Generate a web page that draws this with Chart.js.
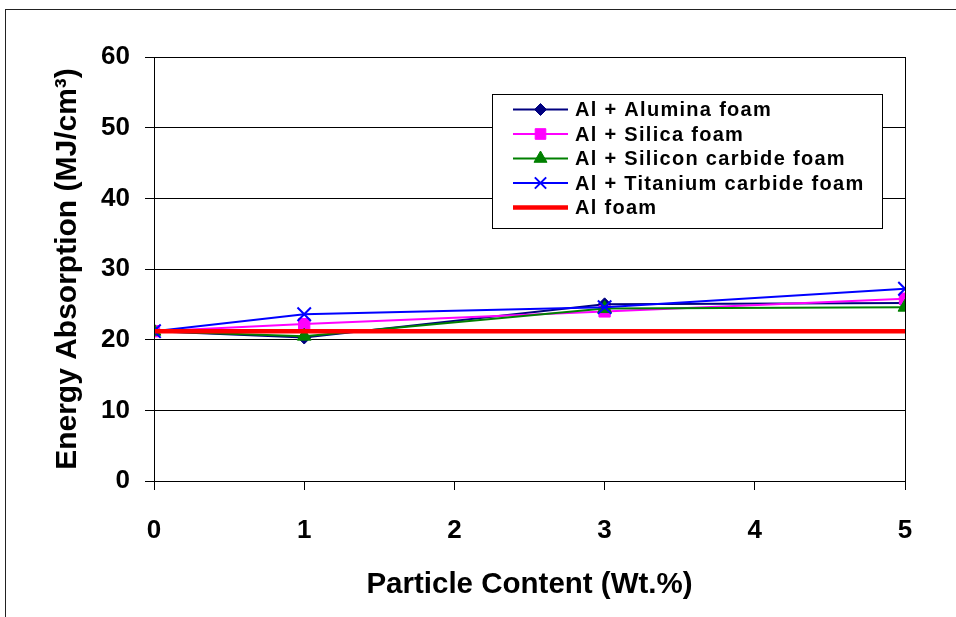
<!DOCTYPE html>
<html>
<head>
<meta charset="utf-8">
<script src="https://cdn.jsdelivr.net/npm/chart.js@4.4.1/dist/chart.umd.min.js"></script>
<style>
  html, body { margin: 0; padding: 0; background: #fff; width: 956px; height: 617px; overflow: hidden; }
  #frame { position: absolute; left: 5px; top: 9px; width: 1000px; height: 700px; border: 1px solid #222; background: #fff; }
  #chart { position: absolute; left: 0; top: 0; }
</style>
</head>
<body>
<div id="frame"></div>
<canvas id="chart" width="956" height="617"></canvas>
<script>
// Particle content (wt.%) at which each foam was tested
const particleContent = [0, 1, 3, 5];

// Energy absorption (MJ/cm3) per foam type
const aluminaFoam = [21.2, 20.3, 25.0, 25.2];
const silicaFoam = [21.2, 22.2, 24.0, 25.8];
const siliconCarbideFoam = [21.2, 20.5, 24.4, 24.6];
const titaniumCarbideFoam = [21.2, 23.6, 24.6, 27.2];
const plainAlFoam = [21.2, 21.2, 21.2, 21.2];

// Axis tick values
const xTicks = [0, 1, 2, 3, 4, 5];
const yTicks = [0, 10, 20, 30, 40, 50, 60];

const FONT = '"Liberation Sans", Arial, Helvetica, sans-serif';
Chart.defaults.font.family = FONT;
Chart.defaults.font.weight = 'bold';
Chart.defaults.color = '#000';

const toPoints = ys => particleContent.map((x, i) => ({ x, y: ys[i] }));

function series(label, ys, color, style, radius, order, extra) {
  return Object.assign({
    label,
    data: toPoints(ys),
    borderColor: color,
    backgroundColor: color,
    borderWidth: 2,
    pointStyle: style,
    pointRadius: radius,
    pointHoverRadius: radius,
    pointBackgroundColor: color,
    pointBorderColor: color,
    pointBorderWidth: 1,
    tension: 0,
    order
  }, extra || {});
}

const datasets = [
  series('Al + Alumina foam', aluminaFoam, '#000080', 'rectRot', 6.5, 5),
  series('Al + Silica foam', silicaFoam, '#FF00FF', 'rect', 8, 4),
  series('Al + Silicon carbide foam', siliconCarbideFoam, '#008000', 'triangle', 8, 3),
  series('Al + Titanium carbide foam', titaniumCarbideFoam, '#0000FF', 'crossRot', 9.5, 2, { pointBorderWidth: 2 }),
  series('Al foam', plainAlFoam, '#FF0000', false, 0, 1, { borderWidth: 4.5 })
];

// Boxed legend inside the plot area plus the plot frame
const boxedLegend = {
  id: 'boxedLegend',
  afterDraw(chart, args, opts) {
    const ctx = chart.ctx;
    const a = chart.chartArea;
    ctx.save();
    // plot area frame
    ctx.strokeStyle = '#000';
    ctx.lineWidth = 1;
    ctx.strokeRect(Math.round(a.left) + 0.5, Math.round(a.top) + 0.5,
                   Math.round(a.right - a.left), Math.round(a.bottom - a.top));

    // legend box
    const bx = opts.left, by = opts.top, bw = opts.width, bh = opts.height;
    ctx.fillStyle = '#fff';
    ctx.fillRect(bx, by, bw, bh);
    ctx.strokeRect(bx + 0.5, by + 0.5, bw, bh);

    ctx.font = 'bold ' + opts.fontSize + 'px ' + FONT;
    ctx.textBaseline = 'middle';
    ctx.textAlign = 'left';
    if ('letterSpacing' in ctx) ctx.letterSpacing = opts.letterSpacing + 'px';

    chart.data.datasets.forEach((ds, i) => {
      const y = by + opts.firstRow + i * opts.rowGap;
      const x0 = bx + opts.lineStart, x1 = bx + opts.lineEnd;
      ctx.strokeStyle = ds.borderColor;
      ctx.lineWidth = ds.borderWidth;
      ctx.lineCap = 'butt';
      ctx.beginPath();
      ctx.moveTo(x0, y);
      ctx.lineTo(x1, y);
      ctx.stroke();
      if (ds.pointStyle) {
        ctx.fillStyle = ds.pointBackgroundColor;
        ctx.strokeStyle = ds.pointBorderColor;
        ctx.lineWidth = ds.pointBorderWidth;
        Chart.helpers.drawPoint(ctx, {
          pointStyle: ds.pointStyle,
          radius: ds.pointStyle === 'crossRot' ? 8 : ds.pointRadius - 0.5,
          rotation: 0,
          borderWidth: ds.pointBorderWidth
        }, (x0 + x1) / 2, y);
      }
      ctx.fillStyle = '#000';
      ctx.fillText(ds.label, bx + opts.textStart, y + 1);
    });
    ctx.restore();
  }
};

new Chart(document.getElementById('chart'), {
  type: 'line',
  data: { datasets },
  options: {
    responsive: false,
    animation: false,
    events: [],
    layout: { padding: { left: 0, top: 57, right: 51, bottom: 0 } },
    plugins: {
      legend: { display: false },
      tooltip: { enabled: false },
      boxedLegend: {
        left: 492, top: 94, width: 390, height: 134,
        firstRow: 15.5, rowGap: 24.5,
        lineStart: 21, lineEnd: 76, textStart: 83,
        fontSize: 20, letterSpacing: 1.3
      }
    },
    scales: {
      x: {
        type: 'linear',
        min: 0, max: 5,
        afterBuildTicks: s => { s.ticks = xTicks.map(v => ({ value: v })); },
        afterFit: s => { s.height = 136; },
        grid: { display: true, drawOnChartArea: false, drawTicks: true, tickLength: 9, color: '#000', lineWidth: 1 },
        border: { display: true, color: '#000', width: 1 },
        ticks: { font: { size: 26, weight: 'bold' }, padding: 25, color: '#000', maxRotation: 0 },
        title: {
          display: true,
          text: 'Particle Content (Wt.%)',
          font: { size: 29.5, weight: 'bold' },
          color: '#000',
          padding: { top: 0, bottom: 14 }
        }
      },
      y: {
        type: 'linear',
        min: 0, max: 60,
        afterBuildTicks: s => { s.ticks = yTicks.map(v => ({ value: v })); },
        afterFit: s => { s.width = 154; },
        grid: { color: '#000', lineWidth: 1, tickLength: 9, drawTicks: true },
        border: { display: true, color: '#000', width: 1 },
        ticks: { font: { size: 26, weight: 'bold' }, padding: 15, color: '#000' },
        title: {
          display: true,
          text: 'Energy Absorption (MJ/cm\u00B3)',
          font: { size: 30, weight: 'bold' },
          color: '#000',
          padding: { top: 50, bottom: 0 }
        }
      }
    }
  },
  plugins: [boxedLegend]
});
</script>
</body>
</html>
